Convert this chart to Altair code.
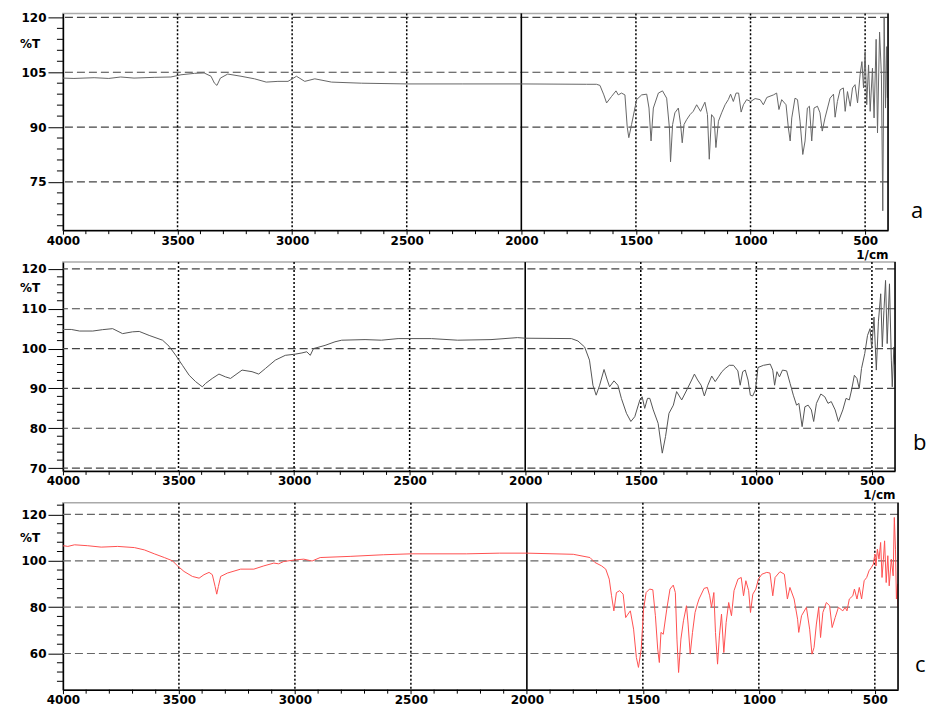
import altair as alt
import pandas as pd

# ---------------- data (wavenumber in 1/cm, transmittance in %T) ----------------
wn_a = [4000, 3952, 3864, 3800, 3748, 3690, 3602, 3529, 3485, 3426, 3384, 3354, 3339, 3328, 3313,
        3281, 3223, 3164, 3113, 3062, 3018, 2981, 2945, 2901, 2828, 2697, 2500, 2258, 2000, 1715,
        1672, 1657, 1640, 1628, 1606, 1587, 1577, 1563, 1548, 1538, 1531, 1519, 1497, 1475, 1453,
        1443, 1434, 1424, 1402, 1384, 1366, 1354, 1349, 1340, 1330, 1315, 1305, 1298, 1290, 1279,
        1264, 1250, 1235, 1218, 1199, 1188, 1180, 1170, 1159, 1151, 1140, 1126, 1111, 1097, 1087,
        1075, 1063, 1052, 1041, 1031, 1017, 999, 980, 958, 944, 929, 900, 886, 876, 864,
        845, 835, 827, 820, 806, 795, 784, 772, 762, 752, 743, 733, 723, 708, 697,
        687, 675, 653, 638, 631, 621, 609, 595, 587, 577, 565, 555, 544, 533, 522,
        514, 507, 500, 493, 485, 478, 468, 461, 452, 446, 437, 429, 423, 417, 411,
        406, 403]
t_a = [103.4, 103.3, 103.5, 103.3, 103.7, 103.4, 103.6, 103.7, 104.3, 104.7, 104.8, 103.9, 102.0, 101.4, 103.4,
       104.5, 103.9, 103.2, 102.3, 102.5, 102.5, 103.9, 102.5, 103.2, 102.3, 102.0, 101.8, 101.8, 101.8, 101.7,
       101.7, 101.4, 98.8, 96.6, 98.4, 99.9, 98.8, 99.3, 98.8, 90.0, 87.1, 90.7, 97.5, 98.8, 99.0,
       95.2, 86.2, 95.2, 99.3, 99.9, 97.9, 89.8, 80.5, 90.7, 93.9, 95.2, 90.7, 85.7, 90.7, 92.0,
       93.4, 94.3, 96.1, 94.3, 96.8, 93.4, 81.2, 93.4, 92.5, 84.4, 91.6, 93.9, 96.1, 97.5, 99.0,
       97.0, 99.3, 99.3, 94.1, 96.1, 97.5, 97.0, 97.8, 97.5, 96.1, 98.1, 98.8, 99.3, 94.8, 97.5,
       96.1, 89.8, 86.2, 92.5, 97.9, 97.5, 91.6, 82.5, 86.2, 95.2, 95.7, 86.2, 95.2, 95.7, 93.9,
       88.9, 92.5, 97.9, 99.0, 92.7, 97.0, 100.2, 100.7, 94.3, 99.7, 95.7, 100.7, 101.6, 96.6, 104.3,
       107.9, 100.7, 110.6, 96.1, 107.0, 94.3, 106.1, 92.5, 114.0, 88.4, 116.0, 104.3, 67.1, 120.0, 95.2,
       112.0, 98.0]

wn_b = [4000, 3993, 3964, 3928, 3871, 3828, 3785, 3742, 3699, 3670, 3627, 3569, 3541, 3512, 3483,
        3454, 3426, 3397, 3383, 3354, 3325, 3297, 3275, 3225, 3182, 3153, 3124, 3081, 3038, 2995,
        2966, 2945, 2930, 2916, 2866, 2823, 2794, 2693, 2622, 2550, 2406, 2292, 2148, 2033, 2000,
        1800, 1772, 1743, 1722, 1707, 1693, 1678, 1659, 1645, 1635, 1616, 1599, 1584, 1562, 1543,
        1526, 1504, 1494, 1483, 1471, 1461, 1446, 1425, 1407, 1393, 1378, 1359, 1345, 1323, 1301,
        1280, 1268, 1254, 1239, 1225, 1210, 1193, 1178, 1164, 1149, 1135, 1117, 1099, 1080, 1070,
        1059, 1048, 1036, 1026, 1016, 1004, 993, 969, 940, 929, 921, 911, 900, 887, 869,
        854, 840, 826, 816, 802, 790, 776, 762, 752, 740, 721, 704, 690, 676, 659,
        645, 626, 612, 598, 588, 576, 565, 555, 545, 531, 519, 508, 501, 491, 481,
        472, 462, 455, 448, 441, 434, 424, 416, 412, 405, 401]
t_b = [104.8, 104.8, 104.8, 104.4, 104.4, 104.75, 105.0, 103.75, 104.2, 104.3, 103.3, 102.1, 100.6, 98.3, 95.8,
       93.3, 91.7, 90.4, 91.25, 92.5, 93.6, 92.9, 92.5, 94.6, 94.2, 93.6, 95.0, 97.1, 98.3, 98.6,
       98.9, 99.2, 98.3, 100.0, 100.8, 101.7, 102.1, 102.25, 102.1, 102.5, 102.5, 102.1, 102.25, 102.75, 102.6,
       102.5, 101.9, 100.4, 97.1, 90.8, 88.3, 90.8, 94.75, 92.1, 90.4, 91.9, 90.8, 87.5, 83.75, 81.7,
       82.9, 87.1, 87.9, 85.0, 87.5, 87.5, 84.6, 81.25, 73.75, 77.9, 83.75, 85.8, 89.2, 87.1, 89.6,
       92.1, 93.6, 92.1, 90.8, 88.1, 90.8, 93.1, 91.7, 92.9, 94.2, 95.0, 95.8, 95.8, 94.4, 90.8,
       94.2, 94.6, 92.1, 88.3, 88.1, 89.6, 95.25, 95.8, 96.1, 94.6, 90.8, 94.2, 92.9, 94.6, 94.4,
       91.25, 88.3, 85.8, 86.25, 80.4, 85.4, 85.8, 84.6, 81.7, 86.25, 88.6, 87.9, 86.25, 86.7, 84.6,
       81.7, 84.6, 87.5, 87.1, 89.6, 93.3, 92.5, 90.0, 95.0, 98.75, 103.3, 105.0, 100.0, 107.9, 94.6,
       106.7, 113.75, 100.4, 109.6, 117.1, 101.25, 116.25, 97.1, 90.4, 100.4, 96.0]

wn_c = [4000, 3996, 3979, 3950, 3893, 3835, 3764, 3692, 3649, 3606, 3563, 3528, 3506, 3478, 3442,
        3413, 3392, 3370, 3356, 3344, 3337, 3330, 3320, 3291, 3234, 3177, 3134, 3091, 3070, 3048,
        2998, 2962, 2926, 2891, 2762, 2619, 2500, 2261, 2118, 2000, 1800, 1728, 1707, 1678, 1660,
        1645, 1635, 1625, 1614, 1600, 1585, 1574, 1564, 1554, 1540, 1528, 1519, 1507, 1497, 1486,
        1471, 1457, 1446, 1436, 1429, 1422, 1412, 1397, 1383, 1369, 1360, 1353, 1346, 1336, 1325,
        1312, 1305, 1296, 1286, 1275, 1265, 1258, 1236, 1222, 1212, 1204, 1194, 1187, 1178, 1170,
        1161, 1151, 1141, 1130, 1118, 1107, 1090, 1076, 1066, 1056, 1044, 1036, 1026, 1013, 1002,
        987, 966, 952, 940, 930, 909, 890, 877, 866, 848, 833, 828, 816, 795, 781,
        771, 762, 752, 742, 734, 724, 709, 695, 684, 671, 657, 638, 628, 620, 610,
        595, 588, 577, 567, 557, 546, 535, 525, 515, 506, 500, 495, 489, 482, 475,
        469, 463, 458, 451, 444, 438, 429, 421, 416, 411, 407, 402, 400]
t_c = [106.3, 106.5, 106.2, 106.9, 106.5, 105.9, 106.2, 105.7, 104.7, 103.0, 101.4, 100.0, 97.8, 95.4, 93.25,
       92.5, 94.0, 95.0, 94.0, 88.9, 85.6, 88.9, 93.25, 94.7, 96.4, 96.4, 97.8, 99.0, 98.7, 99.7,
       100.4, 100.7, 99.9, 101.4, 101.9, 102.6, 103.0, 103.0, 103.3, 103.3, 102.8, 101.4, 99.3, 97.8, 96.4,
       92.1, 84.9, 78.4, 86.3, 87.1, 85.6, 75.5, 77.0, 78.4, 70.5, 58.3, 54.0, 61.9, 79.1, 86.3,
       87.8, 87.5, 76.3, 61.9, 56.1, 69.1, 68.3, 79.1, 87.8, 89.5, 86.3, 66.2, 51.8, 66.2, 74.1,
       80.6, 72.7, 59.7, 69.1, 77.7, 81.3, 83.5, 88.1, 88.5, 84.9, 79.9, 86.3, 69.1, 55.4, 67.6,
       77.0, 60.4, 73.4, 82.0, 76.3, 87.1, 92.1, 92.8, 84.9, 91.4, 87.1, 77.7, 85.6, 87.8, 92.1,
       94.2, 95.0, 94.7, 84.9, 92.8, 95.3, 94.2, 83.5, 88.5, 83.5, 74.8, 69.1, 76.3, 79.9, 70.5,
       59.7, 62.6, 72.7, 79.9, 66.9, 77.7, 82.0, 80.6, 71.2, 75.5, 79.9, 78.4, 79.9, 78.4, 83.5,
       84.9, 87.8, 83.5, 88.5, 83.5, 91.4, 92.8, 95.7, 97.1, 98.6, 102.9, 97.8, 105.0, 100.7, 107.9,
       92.8, 100.7, 108.6, 90.6, 102.2, 89.2, 100.7, 93.5, 118.7, 105.0, 83.5, 90.0, 80.0]

x_labels = [4000, 3500, 3000, 2500, 2000, 1500, 1000, 500]
x_dotted = [3500, 3000, 2500, 1500, 1000, 500]
x_solid = [2000]
x_minor = [3900, 3800, 3700, 3600, 3400, 3300, 3200, 3100, 2900, 2800, 2700, 2600,
           2400, 2300, 2200, 2100, 1900, 1800, 1700, 1600, 1400, 1300, 1200, 1100,
           900, 800, 700, 600]

y_major_a = [75, 90, 105, 120]
y_minor_a = [63, 66, 69, 72, 78, 81, 84, 87, 93, 96, 99, 102, 108, 111, 114, 117]
y_major_b = [70, 80, 90, 100, 110, 120]
y_minor_b = [72, 74, 76, 78, 82, 84, 86, 88, 92, 94, 96, 98, 102, 104, 106, 108,
             112, 114, 116, 118]
y_major_c = [60, 80, 100, 120]
y_minor_c = [48, 52, 56, 64, 68, 72, 76, 84, 88, 92, 96, 104, 108, 112, 116, 124]

FONT = "DejaVu Sans"


def panel(wn, t, color, ydom, ymaj, ymin, w, h, letter, letter_dx, letter_y, pct_y, grid_color):
    xs = alt.Scale(domain=[400, 4000], reverse=True, nice=False, zero=False)
    ys = alt.Scale(domain=ydom, nice=False, zero=False)
    xaxis = alt.Axis(
        values=x_labels, format="d", title="1/cm", grid=False,
        tickSize=4, labelPadding=1, labelFont=FONT, labelFontSize=12,
        labelFontWeight="bold", labelColor="black", labelFlush=False,
        titleFont=FONT, titleFontSize=12, titleFontWeight="bold", titleColor="black",
        titleX=w, titleY=24, titleAlign="right", titleBaseline="middle",
        domainColor="black", domainWidth=1.5, tickColor="black")
    yaxis = alt.Axis(
        values=ymaj, title=None, grid=False, tickSize=15, labelPadding=2,
        labelFont=FONT, labelFontSize=12, labelFontWeight="bold", labelColor="black",
        domainColor="black", domainWidth=1.5, tickColor="black")

    def X(f):
        return alt.X(f, scale=xs, axis=xaxis, title="1/cm")

    def Y(f):
        return alt.Y(f, scale=ys, axis=yaxis, title=None)

    spec = pd.DataFrame({"wn": wn, "t": t, "i": list(range(len(wn)))})

    hgrid = alt.Chart(pd.DataFrame({"t": ymaj})).mark_rule(
        color=grid_color, strokeDash=[8, 4], strokeWidth=1.2
    ).encode(y=Y("t:Q"))

    vdot = alt.Chart(pd.DataFrame({"wn": x_dotted})).mark_rule(
        color="black", strokeDash=[2, 2], strokeWidth=1.5
    ).encode(x=X("wn:Q"))

    vsolid = alt.Chart(pd.DataFrame({"wn": x_solid})).mark_rule(
        color="black", strokeWidth=1.6
    ).encode(x=X("wn:Q"))

    line = alt.Chart(spec).mark_line(color=color, strokeWidth=1, clip=True).encode(
        x=X("wn:Q"), y=Y("t:Q"), order="i:Q",
    )

    yminor_layer = alt.Chart(pd.DataFrame({"t": ymin})).mark_rule(
        color="black", strokeWidth=1
    ).encode(y=Y("t:Q"), x=alt.value(-6), x2=alt.value(0))

    xminor_layer = alt.Chart(pd.DataFrame({"wn": x_minor})).mark_rule(
        color="black", strokeWidth=1
    ).encode(x=X("wn:Q"), y=alt.value(h), y2=alt.value(h + 4))

    right = alt.Chart(pd.DataFrame({"k": [0]})).mark_rule(
        color="black", strokeWidth=1.5
    ).encode(x=alt.value(w), y=alt.value(0), y2=alt.value(h))

    pct = alt.Chart(pd.DataFrame({"s": ["%T"]})).mark_text(
        font=FONT, fontSize=12, fontWeight="bold", color="black",
        align="center", baseline="middle"
    ).encode(text="s:N", x=alt.value(-33), y=alt.value(pct_y))

    let = alt.Chart(pd.DataFrame({"s": [letter]})).mark_text(
        font="Open Sans", fontSize=22, color="black", align="left", baseline="alphabetic"
    ).encode(text="s:N", x=alt.value(w + letter_dx), y=alt.value(letter_y))

    return alt.layer(hgrid, vdot, vsolid, line, yminor_layer, xminor_layer,
                     right, pct, let).properties(width=w, height=h)


pa = panel(wn_a, t_a, "#666666", [61.8, 121.1], y_major_a, y_minor_a,
           826, 217, "a", 23, 205, 31, "#444444")
pb = panel(wn_b, t_b, "#555555", [69.3, 121.7], y_major_b, y_minor_b,
           833, 209, "b", 18, 188, 26, "#444444")
pc = panel(wn_c, t_c, "#ff5050", [44.4, 125], y_major_c, y_minor_c,
           836, 187, "c", 17, 169, 35, "#666666")

chart = alt.vconcat(pa, pb, pc, spacing=32, bounds="flush").properties(
    padding={"left": 11, "top": 2, "right": 0, "bottom": 0}
).configure_view(stroke="#aaaaaa", strokeWidth=1.5)

chart.save("out.html", embed_options={"renderer": "svg", "actions": False})
